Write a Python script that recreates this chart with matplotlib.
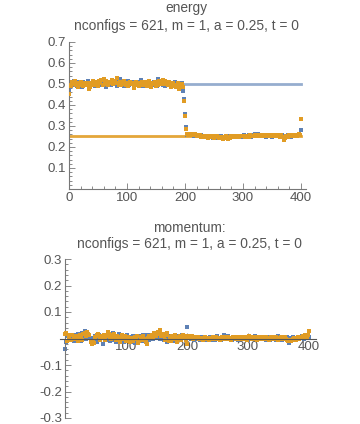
import matplotlib.pyplot as plt
import matplotlib.ticker as mticker
import numpy as np

# configuration index (every 2nd config shown)
config = list(range(0, 401, 2))

energy_blue = [
    0.470, 0.488, 0.505, 0.497, 0.512, 0.495, 0.502, 0.490, 0.508, 0.499, 0.503, 0.486, 0.510, 0.497, 0.505, 0.493, 0.515, 0.500, 0.491, 0.507,
    0.498, 0.504, 0.489, 0.511, 0.502, 0.495, 0.507, 0.493, 0.500, 0.514, 0.497, 0.503, 0.488, 0.506, 0.499, 0.509, 0.494, 0.502, 0.516, 0.498,
    0.505, 0.491, 0.510, 0.500, 0.523, 0.496, 0.504, 0.489, 0.508, 0.501, 0.497, 0.512, 0.494, 0.503, 0.499, 0.509, 0.492, 0.505, 0.498, 0.511,
    0.496, 0.503, 0.518, 0.500, 0.490, 0.507, 0.498, 0.511, 0.494, 0.502, 0.506, 0.488, 0.501, 0.509, 0.497, 0.504, 0.492, 0.525, 0.499, 0.506,
    0.513, 0.497, 0.502, 0.490, 0.508, 0.499, 0.494, 0.506, 0.488, 0.503, 0.497, 0.509, 0.491, 0.500, 0.495, 0.504, 0.489, 0.507,
    0.468, 0.428, 0.358, 0.295,
    0.258, 0.262, 0.255, 0.260, 0.257, 0.263, 0.254, 0.259, 0.256, 0.252, 0.258, 0.250, 0.255, 0.249, 0.253, 0.247, 0.251, 0.248, 0.254, 0.246,
    0.252, 0.249, 0.245, 0.251, 0.247, 0.253, 0.243, 0.249, 0.246, 0.251, 0.244, 0.248, 0.242, 0.250, 0.246, 0.249, 0.244, 0.251, 0.247, 0.252,
    0.248, 0.253, 0.250, 0.247, 0.254, 0.249, 0.252, 0.246, 0.251, 0.255, 0.249, 0.253, 0.250, 0.256, 0.252, 0.249, 0.257, 0.253, 0.260, 0.251,
    0.255, 0.262, 0.252, 0.258, 0.250, 0.256, 0.253, 0.259, 0.249, 0.255, 0.251, 0.257, 0.253, 0.248, 0.256, 0.252, 0.259, 0.254, 0.250, 0.257,
    0.253, 0.249, 0.256, 0.251, 0.245, 0.254, 0.250, 0.257, 0.252, 0.248, 0.255, 0.251, 0.259, 0.253, 0.250, 0.256, 0.262, 0.258,
    0.282,
]

energy_orange = [
    0.452, 0.495, 0.490, 0.508, 0.500, 0.515, 0.493, 0.503, 0.485, 0.498, 0.511, 0.496, 0.489, 0.504, 0.499, 0.493, 0.506, 0.475, 0.488, 0.497,
    0.503, 0.515, 0.494, 0.500, 0.509, 0.491, 0.512, 0.503, 0.518, 0.497, 0.522, 0.508, 0.514, 0.501, 0.495, 0.510, 0.504, 0.519, 0.500, 0.507,
    0.512, 0.528, 0.503, 0.497, 0.509, 0.493, 0.505, 0.515, 0.500, 0.496, 0.507, 0.490, 0.502, 0.511, 0.498, 0.504, 0.483, 0.497, 0.508, 0.500,
    0.491, 0.505, 0.497, 0.510, 0.502, 0.494, 0.508, 0.489, 0.500, 0.513, 0.496, 0.487, 0.504, 0.499, 0.509, 0.492, 0.503, 0.497, 0.515, 0.505,
    0.499, 0.520, 0.508, 0.513, 0.501, 0.495, 0.510, 0.503, 0.488, 0.498, 0.506, 0.492, 0.485, 0.497, 0.503, 0.478, 0.494, 0.499,
    0.488, 0.421, 0.349, 0.288,
    0.260, 0.256, 0.263, 0.258, 0.261, 0.255, 0.259, 0.262, 0.254, 0.257, 0.251, 0.255, 0.248, 0.253, 0.250, 0.246, 0.252, 0.249, 0.245, 0.251,
    0.247, 0.253, 0.249, 0.244, 0.250, 0.246, 0.252, 0.241, 0.247, 0.243, 0.249, 0.238, 0.246, 0.251, 0.244, 0.240, 0.248, 0.245, 0.250, 0.246,
    0.251, 0.247, 0.252, 0.249, 0.253, 0.248, 0.251, 0.254, 0.250, 0.252, 0.248, 0.254, 0.251, 0.249, 0.255, 0.252, 0.250, 0.254, 0.257, 0.253,
    0.258, 0.254, 0.256, 0.251, 0.257, 0.253, 0.255, 0.250, 0.256, 0.259, 0.252, 0.255, 0.251, 0.257, 0.254, 0.250, 0.256, 0.253, 0.258, 0.252,
    0.249, 0.255, 0.247, 0.234, 0.245, 0.251, 0.254, 0.249, 0.256, 0.252, 0.258, 0.250, 0.255, 0.253, 0.257, 0.251, 0.260, 0.255,
    0.335,
]

momentum_blue = [
    -0.040, -0.012, 0.008, 0.015, -0.005, 0.010, 0.002, -0.008, 0.012, 0.004, -0.003, 0.018, 0.006, -0.010, 0.022, 0.009, 0.030, -0.002, 0.011, 0.016,
    0.005, -0.010, -0.018, 0.003, -0.006, 0.010, -0.014, 0.007, 0.013, -0.002, 0.009, -0.020, 0.004, 0.012, -0.007, 0.016, 0.001, -0.011, 0.008, 0.019,
    -0.004, 0.011, -0.013, 0.006, 0.017, -0.008, 0.003, 0.010, -0.015, 0.007, -0.002, 0.013, -0.009, 0.005, -0.012, 0.002, 0.008, -0.016, 0.004, 0.011,
    -0.006, 0.009, -0.011, 0.003, 0.014, -0.008, 0.006, 0.012, 0.001, -0.005, 0.015, 0.008, -0.003, 0.018, 0.010, 0.004, 0.022, 0.007, -0.002, 0.012,
    0.003, -0.007, 0.010, 0.005, -0.012, 0.008, 0.001, -0.004, 0.011, -0.009, 0.006, 0.002, -0.006, 0.009, 0.004, -0.003, 0.012, 0.007,
    0.010, 0.006, 0.045, 0.004,
    0.005, -0.002, 0.006, 0.001, -0.004, 0.003, 0.007, -0.001, 0.002, -0.005, 0.004, 0.000, -0.003, 0.005, -0.006, 0.002, -0.002, 0.006, -0.004, 0.001,
    0.003, -0.005, 0.004, 0.009, -0.002, 0.002, -0.004, 0.006, 0.012, 0.001, -0.003, 0.004, 0.008, -0.001, 0.003, -0.005, 0.002, 0.006, -0.002, 0.004,
    -0.004, 0.001, 0.005, -0.002, 0.003, 0.007, -0.003, 0.002, -0.006, 0.004, 0.000, 0.006, -0.002, 0.003, 0.008, -0.004, 0.002, 0.005, -0.001, 0.004,
    0.007, -0.003, 0.002, -0.005, 0.004, 0.001, -0.007, 0.003, 0.006, -0.002, 0.005, -0.004, 0.002, 0.008, -0.001, 0.003, -0.006, 0.004, 0.001, -0.003,
    0.005, -0.008, -0.018, 0.002, -0.004, 0.006, 0.001, -0.005, 0.003, 0.007, -0.002, 0.004, 0.010, 0.001, -0.003, 0.006, 0.002, 0.009,
    0.004,
]

momentum_orange = [
    0.018, 0.022, -0.010, 0.004, 0.012, -0.005, 0.015, 0.008, -0.002, 0.010, 0.003, -0.008, 0.013, 0.006, -0.004, 0.016, 0.020, 0.011, 0.025, 0.018,
    0.012, -0.015, -0.020, -0.012, -0.018, 0.005, 0.013, 0.018, 0.008, -0.004, 0.010, 0.002, 0.014, -0.006, 0.011, 0.024, 0.017, 0.007, -0.003, 0.012,
    0.016, 0.005, -0.007, 0.010, 0.002, -0.012, 0.006, 0.013, -0.003, 0.008, -0.010, -0.004, 0.007, -0.014, -0.008, 0.003, -0.011, 0.005, -0.002, 0.009,
    -0.018, -0.010, 0.004, -0.006, 0.008, -0.003, -0.015, -0.021, 0.002, 0.010, 0.006, 0.014, 0.004, 0.019, 0.012, 0.008, 0.025, 0.016, 0.033, 0.011,
    0.018, 0.008, -0.004, 0.012, 0.020, -0.008, 0.005, -0.010, 0.009, -0.003, 0.014, 0.002, -0.012, 0.007, 0.011, -0.005, 0.004, 0.015,
    0.008, -0.004, -0.022, 0.010,
    0.006, 0.002, 0.008, -0.002, 0.004, 0.007, 0.001, 0.005, -0.003, 0.003, 0.000, -0.004, 0.002, 0.005, -0.001, 0.003, -0.005, 0.002, -0.002, 0.004,
    -0.003, 0.001, 0.005, -0.002, 0.003, -0.005, 0.002, 0.006, -0.001, 0.004, 0.000, -0.003, 0.005, 0.002, -0.004, 0.003, 0.007, 0.001, -0.002, 0.004,
    0.000, 0.005, -0.003, 0.002, 0.006, -0.001, 0.004, -0.004, 0.003, 0.008, 0.001, -0.002, 0.005, 0.000, 0.004, -0.005, 0.003, 0.006, 0.001, -0.002,
    0.004, 0.001, -0.003, 0.006, 0.002, -0.005, 0.003, 0.007, 0.000, 0.004, -0.002, 0.005, 0.001, -0.004, 0.003, 0.006, -0.001, 0.002, 0.005, -0.003,
    -0.006, -0.009, -0.004, -0.011, -0.007, -0.002, 0.003, -0.005, 0.001, 0.004, -0.003, 0.006, 0.002, 0.008, 0.004, 0.012, 0.006, 0.015,
    0.030,
]

# reference levels in the energy plot
ref_levels = [0.5, 0.25]

subtitle = 'nconfigs = 621, m = 1, a = 0.25, t = 0'

BLUE = '#5E81B5'
ORANGE = '#E19C24'
AXC = '#777777'
TXT = '#555555'
MS = 2.3

plt.rcParams['font.family'] = ['Liberation Sans', 'DejaVu Sans']

fig = plt.figure(figsize=(3.6, 4.24), dpi=100)


def style_axes(ax):
    for side in ['top', 'right']:
        ax.spines[side].set_visible(False)
    for side in ['left', 'bottom']:
        ax.spines[side].set_color(AXC)
        ax.spines[side].set_linewidth(0.8)
    ax.tick_params(which='both', direction='in', colors=AXC, labelcolor=TXT,
                   labelsize=9.5, width=0.6, pad=2)
    ax.tick_params(which='major', length=4)
    ax.tick_params(which='minor', length=2)
    ax.set_facecolor('none')


# energy
ax1 = fig.add_axes([69 / 360, 1 - 189 / 424, 236.6 / 360, 147 / 424])
ax1.plot([0, 400], [ref_levels[0]] * 2, color=BLUE, lw=2, alpha=0.65, zorder=1)
ax1.plot([0, 400], [ref_levels[1]] * 2, color=ORANGE, lw=2, alpha=0.9, zorder=1)
ax1.plot(config, energy_blue, ls='none', marker='s', ms=MS, mew=0, color=BLUE, zorder=2)
ax1.plot(config, energy_orange, ls='none', marker='s', ms=MS, mew=0, color=ORANGE, zorder=3)
ax1.set_xlim(0, 408)
ax1.set_ylim(0, 0.7)
ax1.xaxis.set_major_locator(mticker.MultipleLocator(100))
ax1.xaxis.set_minor_locator(mticker.MultipleLocator(20))
ax1.yaxis.set_major_locator(mticker.FixedLocator([0.1, 0.2, 0.3, 0.4, 0.5, 0.6, 0.7]))
ax1.yaxis.set_minor_locator(mticker.MultipleLocator(0.02))
ax1.yaxis.set_major_formatter(mticker.FormatStrFormatter('%.1f'))
style_axes(ax1)

fig.text(186 / 360, 1 - 8 / 424, 'energy', ha='center', va='center', color=TXT, fontsize=9.9)
fig.text(186 / 360, 1 - 26 / 424, subtitle, ha='center', va='center', color=TXT, fontsize=9.9)

# momentum
ax2 = fig.add_axes([60.1 / 360, 6 / 424, 256.2 / 360, 159 / 424])
ax2.plot(config, momentum_blue, ls='none', marker='s', ms=MS, mew=0, color=BLUE, zorder=2)
ax2.plot(config, momentum_orange, ls='none', marker='s', ms=MS, mew=0, color=ORANGE, zorder=3)
ax2.set_xlim(-8, 412)
ax2.set_ylim(-0.3, 0.3)
ax2.spines['left'].set_position(('data', 0))
ax2.spines['bottom'].set_position(('data', 0))
ax2.spines['bottom'].set_zorder(4)
ax2.xaxis.set_major_locator(mticker.FixedLocator([100, 200, 300, 400]))
ax2.xaxis.set_minor_locator(mticker.MultipleLocator(20))
ax2.yaxis.set_major_locator(mticker.FixedLocator([-0.3, -0.2, -0.1, 0.1, 0.2, 0.3]))
ax2.yaxis.set_minor_locator(mticker.MultipleLocator(0.02))
ax2.yaxis.set_major_formatter(mticker.FormatStrFormatter('%.1f'))
style_axes(ax2)
ax2.spines['bottom'].set_color('#555555')

fig.text(189 / 360, 1 - 228 / 424, 'momentum:', ha='center', va='center', color=TXT, fontsize=9.9)
fig.text(189 / 360, 1 - 244 / 424, subtitle, ha='center', va='center', color=TXT, fontsize=9.9)

fig.savefig('out.png', dpi=100)
